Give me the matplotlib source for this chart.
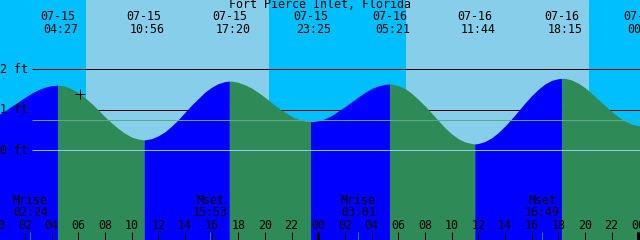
import numpy as np
import matplotlib.pyplot as plt
from matplotlib import transforms

# ---------------- data ----------------
station = "Fort Pierce Inlet, Florida"
dates = {-1: "07-14", 0: "07-15", 1: "07-16", 2: "07-17"}

# water level (ft) on the hour, 07-15 00:00 .. 07-17 00:00
hours = np.arange(0, 49)
level = [0.87, 1.08, 1.30, 1.49, 1.59, 1.58, 1.42, 1.15, 0.82, 0.53,
         0.32, 0.25, 0.35, 0.59, 0.93, 1.27, 1.55, 1.69, 1.67, 1.53,
         1.30, 1.04, 0.83, 0.71, 0.72, 0.85, 1.07, 1.31, 1.52, 1.62,
         1.59, 1.40, 1.09, 0.73, 0.40, 0.20, 0.16, 0.30, 0.59, 0.96,
         1.34, 1.63, 1.76, 1.73, 1.54, 1.25, 0.95, 0.71, 0.60]
# and on the half hour (00:30 .. 47:30)
half_hours = np.arange(0.5, 48, 1.0)
level_half = [0.97, 1.19, 1.40, 1.55, 1.60,
              1.51, 1.29, 0.99, 0.67, 0.41, 0.27,
              0.28, 0.45, 0.75, 1.11, 1.43, 1.64,
              1.70, 1.61, 1.42, 1.17, 0.93, 0.76,
              0.70, 0.77, 0.96, 1.19, 1.42, 1.58,
              1.63, 1.52, 1.25, 0.91, 0.55, 0.28,
              0.16, 0.21, 0.43, 0.77, 1.16, 1.50, 1.72,
              1.77, 1.65, 1.40, 1.10, 0.82, 0.64]

# high / low tides
tide_day = [-1, 0, 0, 0, 0, 1, 1, 1, 2]
tide_time = ["22:15", "04:27", "10:56", "17:20", "23:25",
             "05:21", "11:44", "18:15", "00:12"]
tide_ft = [0.71, 1.60, 0.25, 1.70, 0.70, 1.63, 0.15, 1.77, 0.60]

# daylight
sun_day = [0, 1]
sunrise = ["06:35", "06:35"]
sunset = ["20:18", "20:18"]

# moon
moon_day = [0, 0, 1, 1]
moon_event = ["Mrise", "Mset", "Mrise", "Mset"]
moon_time = ["02:24", "15:53", "03:01", "16:49"]

now_time = "06:08"
now_ft = 1.38
mean_ft = 0.73
grid_ft = [0, 1, 2]


def to_hour(day, hhmm):
    h, m = hhmm.split(":")
    return day * 24 + int(h) + int(m) / 60.0


tide_h = np.array([to_hour(d, t) for d, t in zip(tide_day, tide_time)])

# ---------------- figure ----------------
fig = plt.figure(figsize=(6.4, 2.4), dpi=100)
ax = fig.add_axes([0, 0, 1, 1])
ax.set_xlim(0.13, 48.13)
ax.set_ylim(-2.222, 3.704)
ax.axis("off")

font = dict(family="DejaVu Sans Mono", fontsize=8.4, color="black")
px = 0.72  # one pixel in points
xtrans = transforms.blended_transform_factory(ax.transData, ax.transAxes)

# night / day background
ax.axvspan(-5, 55, color="#00bfff", zorder=0)
for d, r, s in zip(sun_day, sunrise, sunset):
    ax.axvspan(to_hour(d, r), to_hour(d, s), color="#87ceeb", lw=0, zorder=0)

# grid lines behind the tide
x0 = 2.53
ax.hlines([2, 1], x0, 49, color="black", lw=px, zorder=1)

# tide curve, blue while rising, green while falling
t_all = np.concatenate([hours, half_hours, tide_h])
v_all = np.concatenate([level, level_half, tide_ft])
order = np.argsort(t_all)
t_all, v_all = t_all[order], v_all[order]
for i in range(len(tide_h) - 1):
    a, b = tide_h[i], tide_h[i + 1]
    m = (t_all >= a) & (t_all <= b)
    col = "#0000ff" if tide_ft[i + 1] > tide_ft[i] else "#2e8b57"
    ax.fill_between(t_all[m], -3, v_all[m], color=col, lw=0, zorder=2)

ax.hlines(mean_ft, x0, 49, color="#5fa88a", lw=px, zorder=3)
ax.hlines(0, x0, 49, color="#87ceeb", lw=px, zorder=3)

for f in grid_ft:
    ax.text(0.15, f, "%d ft" % f, ha="left", va="center", zorder=4, **font)

# title and tide labels
ax.text(0.5, 1 - 5 / 240, station, transform=ax.transAxes,
        ha="center", va="center", zorder=4, **font)
for d, t, h in zip(tide_day, tide_time, tide_h):
    if h < 0:
        continue
    ax.text(h, 1 - 17 / 240, dates[d], transform=xtrans,
            ha="center", va="center", zorder=4, **font)
    ax.text(h + 0.25, 1 - 29.5 / 240, t, transform=xtrans,
            ha="center", va="center", zorder=4, **font)

# hour ticks along the bottom
tick_h = np.arange(0, 49, 2)
for h in tick_h:
    ax.text(h, 1 - 225.5 / 240, "%02d" % (h % 24), transform=xtrans,
            ha="center", va="center", zorder=4, **font)
ax.vlines(tick_h, 0, 8 / 240, transform=xtrans, color="black", lw=px, zorder=4)
ax.vlines([0, 24, 48], 0, 8 / 240, transform=xtrans, color="black",
          lw=3 * px, zorder=4)

# moon rise / set
for d, e, t in zip(moon_day, moon_event, moon_time):
    h = to_hour(d, t)
    ax.text(h, 1 - 201 / 240, e, transform=xtrans,
            ha="center", va="center", zorder=4, **font)
    ax.text(h, 1 - 212.5 / 240, t, transform=xtrans,
            ha="center", va="center", zorder=4, **font)
    ax.vlines(h, 0, 8 / 240, transform=xtrans, color="#3a7a50", lw=px, zorder=4)

# current time marker
ax.plot(to_hour(0, now_time), now_ft, marker="+", color="black",
        ms=6.5, mew=px, zorder=5)

fig.savefig("out.png", dpi=100)
